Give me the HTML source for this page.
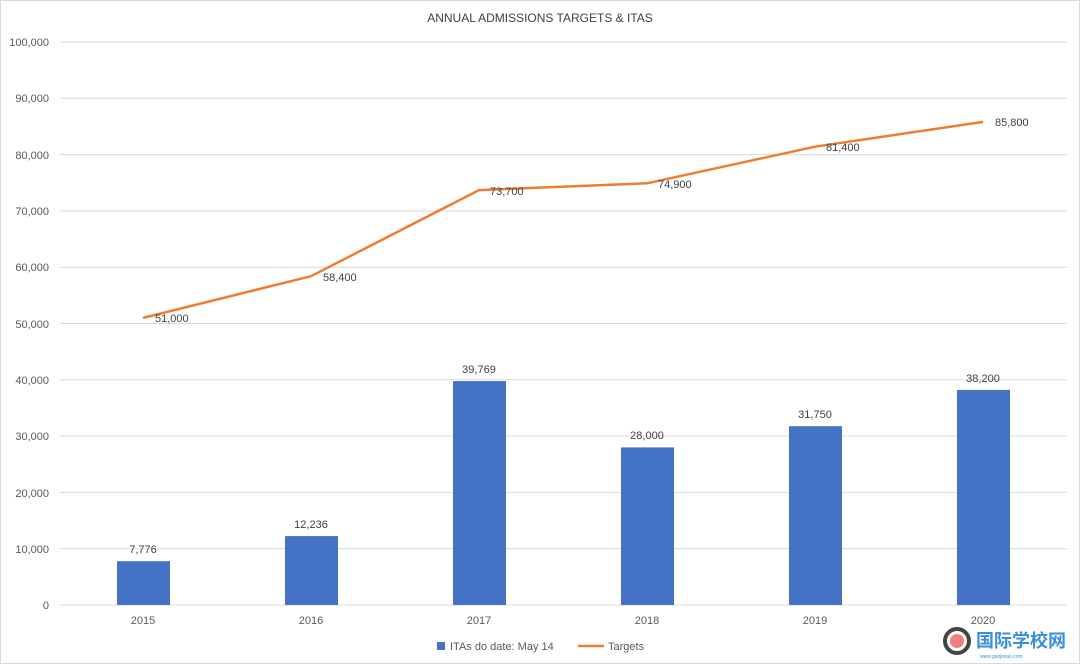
<!DOCTYPE html>
<html><head><meta charset="utf-8"><style>
body{margin:0;background:#fff}
svg{display:block;font-family:"Liberation Sans",sans-serif}
</style></head><body>
<svg width="1080" height="664" viewBox="0 0 1080 664">
<rect x="0.5" y="0.5" width="1079" height="663" fill="#fff" stroke="#d9d9d9"/>
<text x="540" y="22" text-anchor="middle" font-size="12" fill="#404040">ANNUAL ADMISSIONS TARGETS &amp; ITAS</text>
<g stroke="#d9d9d9" stroke-width="1">
<line x1="60" x2="1067" y1="42" y2="42"/><line x1="60" x2="1067" y1="98.3" y2="98.3"/>
<line x1="60" x2="1067" y1="154.6" y2="154.6"/><line x1="60" x2="1067" y1="210.9" y2="210.9"/>
<line x1="60" x2="1067" y1="267.2" y2="267.2"/><line x1="60" x2="1067" y1="323.5" y2="323.5"/>
<line x1="60" x2="1067" y1="379.8" y2="379.8"/><line x1="60" x2="1067" y1="436.1" y2="436.1"/>
<line x1="60" x2="1067" y1="492.4" y2="492.4"/><line x1="60" x2="1067" y1="548.7" y2="548.7"/>
<line x1="60" x2="1067" y1="605" y2="605"/>
</g>
<g font-size="11" fill="#595959" text-anchor="end">
<text x="49" y="46">100,000</text><text x="49" y="102">90,000</text><text x="49" y="159">80,000</text>
<text x="49" y="215">70,000</text><text x="49" y="271">60,000</text><text x="49" y="328">50,000</text>
<text x="49" y="384">40,000</text><text x="49" y="440">30,000</text><text x="49" y="497">20,000</text>
<text x="49" y="553">10,000</text><text x="49" y="609">0</text>
</g>
<g fill="#4472c4">
<rect x="117" y="561.2" width="53" height="43.8"/>
<rect x="285" y="536.1" width="53" height="68.9"/>
<rect x="453" y="381.1" width="53" height="223.9"/>
<rect x="621" y="447.4" width="53" height="157.6"/>
<rect x="789" y="426.2" width="53" height="178.8"/>
<rect x="957" y="389.9" width="53" height="215.1"/>
</g>
<g font-size="11" fill="#404040" text-anchor="middle">
<text x="143" y="553">7,776</text><text x="311" y="528">12,236</text><text x="479" y="373">39,769</text>
<text x="647" y="439">28,000</text><text x="815" y="418">31,750</text><text x="983" y="382">38,200</text>
</g>
<polyline fill="none" stroke="#ed7d31" stroke-width="2.5" stroke-linejoin="round" points="143,317.9 311,276.2 479,190.1 647,183.3 815,146.7 983,121.9"/>
<g font-size="11" fill="#404040">
<text x="155" y="322">51,000</text><text x="323" y="281">58,400</text><text x="490" y="195">73,700</text>
<text x="658" y="188">74,900</text><text x="826" y="151">81,400</text><text x="995" y="126">85,800</text>
</g>
<g font-size="11" fill="#595959" text-anchor="middle">
<text x="143" y="624">2015</text><text x="311" y="624">2016</text><text x="479" y="624">2017</text>
<text x="647" y="624">2018</text><text x="815" y="624">2019</text><text x="983" y="624">2020</text>
</g>
<rect x="437" y="642" width="8" height="8" fill="#4472c4"/>
<text x="450" y="650" font-size="11" fill="#595959">ITAs do date: May 14</text>
<line x1="578" x2="604" y1="646" y2="646" stroke="#ed7d31" stroke-width="2.5"/>
<text x="608" y="650" font-size="11" fill="#595959">Targets</text>
<circle cx="957" cy="641" r="12" fill="none" stroke="#444" stroke-width="4"/>
<circle cx="957" cy="641" r="7" fill="#f08080"/>
<text x="976" y="647" font-size="18" font-weight="bold" fill="#3a8fd8" font-family="'Liberation Sans','Noto Sans CJK SC',sans-serif">国际学校网</text>
<text x="980" y="658" font-size="5" fill="#3a8fd8">www.guojixiao.com</text>
</svg>
</body></html>
